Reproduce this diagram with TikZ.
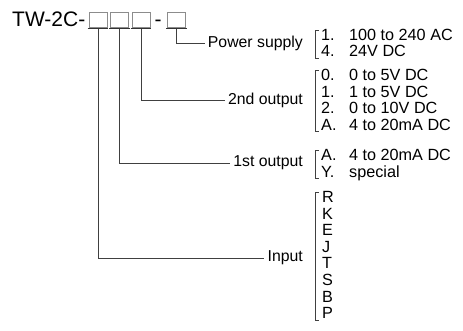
\documentclass[tikz,border=0pt]{standalone}
\usepackage{fontspec}
\setmainfont{Liberation Sans}
\begin{document}
\begin{tikzpicture}[x=1pt,y=-1pt,
  cbox/.style={draw=black!45, line width=0.8pt, minimum width=18pt, minimum height=15pt, inner sep=0pt},
  uline/.style={draw=black!80, line width=1.1pt},
  conn/.style={draw=black!75, line width=0.9pt},
  brk/.style={draw=black!75, line width=0.9pt},
  lbl/.style={anchor=east, inner sep=3pt, font=\fontsize{15.8}{16}\selectfont},
  rowtxt/.style={anchor=base west, inner sep=0pt, font=\fontsize{16.2}{16}\selectfont},
  big/.style={anchor=base west, inner sep=0pt, font=\fontsize{21}{21}\selectfont}]
\useasboundingbox (0,0) rectangle (463,331);
% title
\node[big] (title) at (12,27) {TW-2C-};
\node[cbox] (b1) at (98,19.5) {};
\node[cbox] (b2) at (119.5,19.5) {};
\node[cbox] (b3) at (141,19.5) {};
\node[big, anchor=base] (dash) at (158,27) {-};
\node[cbox] (b4) at (176.5,19.5) {};
\foreach \b in {b1,b2,b3,b4}{
  \draw[uline] ([xshift=-1pt,yshift=-1.5pt]\b.south west) -- ([xshift=1pt,yshift=-1.5pt]\b.south east);
}
% labels
\node[lbl] (ps) at (306,43) {Power supply};
\node[lbl] (o2) at (306,100) {2nd output};
\node[lbl] (o1) at (306,163) {1st output};
\node[lbl] (in) at (306,258) {Input};
% connectors
\draw[conn] ([yshift=-1.5pt]b4.south) |- (ps.west);
\draw[conn] ([yshift=-1.5pt]b3.south) |- (o2.west);
\draw[conn] ([yshift=-1.5pt]b2.south) |- (o1.west);
\draw[conn] ([yshift=-1.5pt]b1.south) |- (in.west);
% power supply rows
\node[rowtxt] (p1n) at (321,41) {1.};
\node[rowtxt] (p1v) at (349,41) {100 to 240 AC};
\node[rowtxt] (p2n) at (321,57) {4.};
\node[rowtxt] (p2v) at (349,57) {24V DC};
\draw[brk] (319,30) -- (315,30) -- (315,58) -- (319,58);
% 2nd output rows
\node[rowtxt] (s1n) at (321,81) {0.};
\node[rowtxt] (s1v) at (349,81) {0 to 5V DC};
\node[rowtxt] (s2n) at (321,97.5) {1.};
\node[rowtxt] (s2v) at (349,97.5) {1 to 5V DC};
\node[rowtxt] (s3n) at (321,114) {2.};
\node[rowtxt] (s3v) at (349,114) {0 to 10V DC};
\node[rowtxt] (s4n) at (321,130.5) {A.};
\node[rowtxt] (s4v) at (349,130.5) {4 to 20mA DC};
\draw[brk] (319,70) -- (315,70) -- (315,131.5) -- (319,131.5);
% 1st output rows
\node[rowtxt] (f1n) at (321,161) {A.};
\node[rowtxt] (f1v) at (349,161) {4 to 20mA DC};
\node[rowtxt] (f2n) at (321,177.5) {Y.};
\node[rowtxt] (f2v) at (349,177.5) {special};
\draw[brk] (319,150) -- (315,150) -- (315,178.5) -- (319,178.5);
% input rows
\foreach \t [count=\i from 0] in {R,K,E,J,T,S,B,P}{
  \node[rowtxt] (i\i) at (322,{202.5+16.6*\i}) {\t};
}
\draw[brk] (319,192) -- (315,192) -- (315,320) -- (319,320);
\end{tikzpicture}
\end{document}
